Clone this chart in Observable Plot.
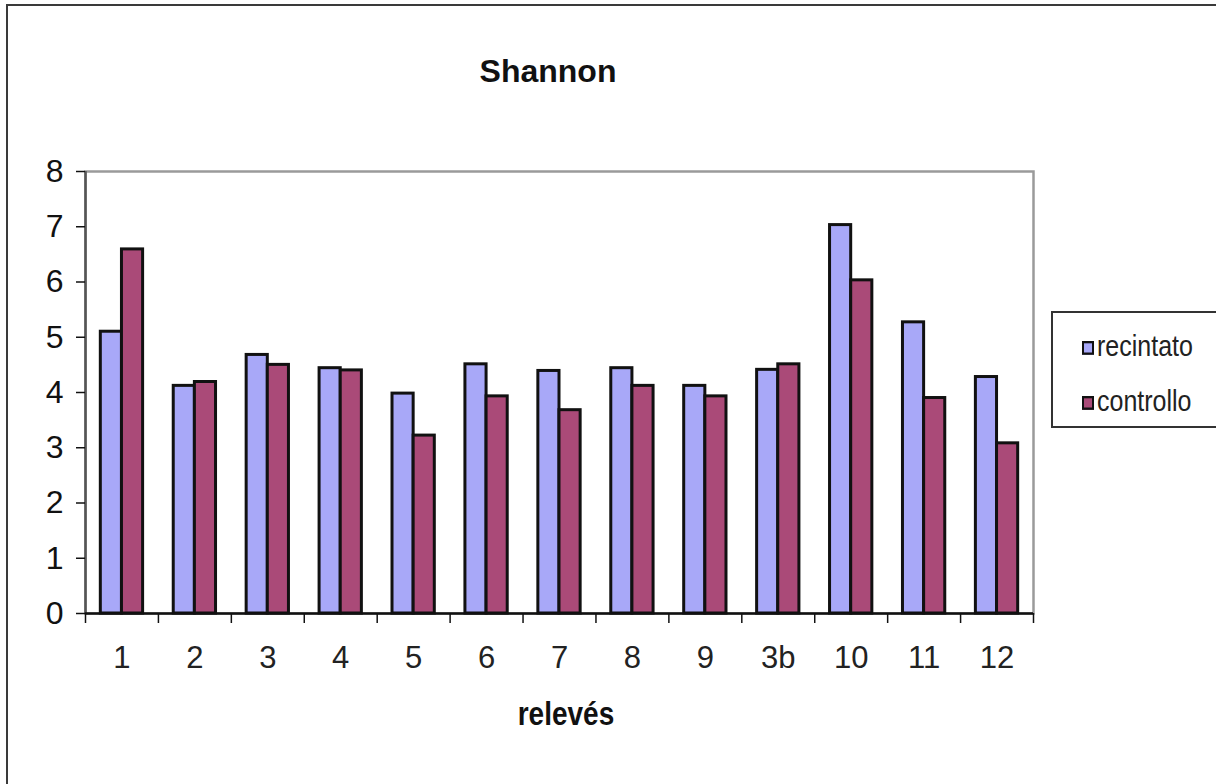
<!DOCTYPE html>
<html>
<head>
<meta charset="utf-8">
<script src="https://cdn.jsdelivr.net/npm/d3@7"></script>
<script src="https://cdn.jsdelivr.net/npm/@observablehq/plot@0.6"></script>
<style>
  html, body { margin: 0; padding: 0; background: #fff; overflow: hidden; }
  body { width: 1216px; height: 784px; position: relative; font-family: "Liberation Sans", Arial, sans-serif; }
  #outer { position: absolute; left: 6px; top: 4px; width: 1300px; height: 900px; border: 2px solid #3a3a3a; box-sizing: border-box; }
  #chart { position: absolute; left: 0; top: 0; }
  #title { position: absolute; top: 55px; left: 448px; width: 200px; text-align: center; font-size: 32px; font-weight: bold; line-height: 32px; color: #111; }
  #xlabel { position: absolute; top: 702px; left: 466px; width: 200px; text-align: center; font-size: 28px; font-weight: bold; line-height: 28px; color: #111; transform: scaleY(1.18); transform-origin: 50% 85%; }
  #legend { position: absolute; left: 1051px; top: 311px; width: 200px; height: 117px; border: 2px solid #333; box-sizing: border-box; background: #fff; }
  .item { position: absolute; left: 29px; font-size: 25px; line-height: 25px; color: #222; white-space: nowrap; transform: scaleY(1.15); transform-origin: 0 85%; }
  .sw { display: inline-block; width: 8px; height: 8px; border: 2px solid #111; margin-right: 3px; vertical-align: 1px; }
</style>
</head>
<body>
<div id="outer"></div>
<div id="chart"></div>
<div id="title">Shannon</div>
<div id="xlabel">relevés</div>
<div id="legend"></div>
<script>
const categories = ["1", "2", "3", "4", "5", "6", "7", "8", "9", "3b", "10", "11", "12"];
const seriesNames = ["recintato", "controllo"];
const recintato = [5.10, 4.12, 4.68, 4.44, 3.98, 4.51, 4.39, 4.44, 4.12, 4.41, 7.03, 5.27, 4.28];
const controllo = [6.59, 4.19, 4.50, 4.40, 3.22, 3.93, 3.68, 4.12, 3.93, 4.51, 6.03, 3.90, 3.08];
const seriesColors = ["#a8a8f8", "#aa4a78"];
const yTicks = [0, 1, 2, 3, 4, 5, 6, 7, 8];

const rows = categories.flatMap((c, i) => [
  {i, category: c, series: "recintato", value: recintato[i], slot: 0},
  {i, category: c, series: "controllo", value: controllo[i], slot: 1}
]);

// grouped bar layout within each category band (fractions of the band)
const groupStart = 0.21, groupEnd = 0.79, half = (groupEnd - groupStart) / 2;

const plot = Plot.plot({
  width: 1216,
  height: 784,
  marginLeft: 85,
  marginRight: 183,
  marginTop: 171,
  marginBottom: 171,
  style: {fontFamily: "'Liberation Sans', Arial, sans-serif", color: "#111", background: "transparent"},
  x: {domain: [0, categories.length], axis: null},
  y: {domain: [0, 8], axis: null},
  color: {domain: seriesNames, range: seriesColors},
  marks: [
    Plot.frame({stroke: "#9a9a9a", strokeWidth: 2.5}),
    Plot.rectY(rows, {
      x1: d => d.i + groupStart + d.slot * half,
      x2: d => d.i + groupStart + (d.slot + 1) * half,
      y: "value",
      fill: "series",
      stroke: "#111",
      strokeWidth: 3
    }),
    Plot.ruleX([0], {stroke: "#555", strokeWidth: 2.5}),
    Plot.ruleY([0], {stroke: "#111", strokeWidth: 2.5}),
    Plot.axisY({ticks: yTicks, tickSize: 9, tickPadding: 13, fontSize: 32, stroke: "#111", strokeWidth: 1.5, label: null, fill: "#111"}),
    Plot.axisX({ticks: d3.range(0, categories.length + 1), tickSize: 10, tickFormat: () => "", stroke: "#111", strokeWidth: 1.5, label: null}),
    Plot.axisX({ticks: categories.map((c, i) => i + 0.5), tickSize: 0, tickPadding: 32, fontSize: 31, tickFormat: v => categories[Math.floor(v)], label: null, fill: "#222"})
  ]
});
document.getElementById("chart").appendChild(plot);

const legend = document.getElementById("legend");
seriesNames.forEach((name, k) => {
  const item = document.createElement("div");
  item.className = "item";
  item.style.top = (k === 0 ? 22 : 77) + "px";
  const sw = document.createElement("span");
  sw.className = "sw";
  sw.style.background = seriesColors[k];
  item.appendChild(sw);
  item.appendChild(document.createTextNode(name));
  legend.appendChild(item);
});
</script>
</body>
</html>
